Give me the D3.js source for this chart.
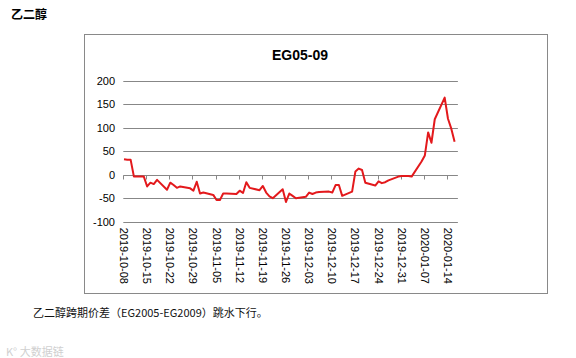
<!DOCTYPE html>
<html><head><meta charset="utf-8">
<script src="https://cdn.jsdelivr.net/npm/d3@7"></script>
<style>
body{margin:0;background:#fff;}
svg{display:block;}
</style></head>
<body>
<svg id="c" width="576" height="358"></svg>
<script>
const dates = ["2019-10-08","2019-10-09","2019-10-10","2019-10-11","2019-10-14","2019-10-15","2019-10-16","2019-10-17","2019-10-18",
"2019-10-21","2019-10-22","2019-10-23","2019-10-24","2019-10-25","2019-10-28","2019-10-29","2019-10-30","2019-10-31",
"2019-11-01","2019-11-04","2019-11-05","2019-11-06","2019-11-07","2019-11-08","2019-11-11","2019-11-12","2019-11-13",
"2019-11-14","2019-11-15","2019-11-18","2019-11-19","2019-11-20","2019-11-21","2019-11-22","2019-11-25","2019-11-26",
"2019-11-27","2019-11-28","2019-11-29","2019-12-02","2019-12-03","2019-12-04","2019-12-05","2019-12-06","2019-12-09",
"2019-12-10","2019-12-11","2019-12-12","2019-12-13","2019-12-16","2019-12-17","2019-12-18","2019-12-19","2019-12-20",
"2019-12-23","2019-12-24","2019-12-25","2019-12-26","2019-12-27","2019-12-30","2019-12-31","2020-01-02","2020-01-03",
"2020-01-06","2020-01-07","2020-01-08","2020-01-09","2020-01-10","2020-01-13","2020-01-14","2020-01-15","2020-01-16"];
const spread = [33,32,32,-4,-4,-25,-17,-20,-11,
-32,-17,-22,-28,-25,-29,-34,-15,-40,
-38,-43,-54,-54,-40,-40,-41,-34,-39,
-16,-28,-33,-24,-38,-46,-50,-31,-58,
-40,-45,-50,-47,-38,-41,-38,-37,-36,
-38,-22,-22,-45,-36,7,13,10,-17,
-23,-14,-18,-16,-12,-4,-3,-3,-4,
28,41,90,68,118,164,119,98,70];
const yTicks = [200,150,100,50,0,-50,-100];
const xTickLabels = ["2019-10-08","2019-10-15","2019-10-22","2019-10-29","2019-11-05","2019-11-12","2019-11-19","2019-11-26",
"2019-12-03","2019-12-10","2019-12-17","2019-12-24","2019-12-31","2020-01-07","2020-01-14"];
const chartTitle = "EG05-09";
const pageTitle = "乙二醇";
const caption = "乙二醇跨期价差（EG2005-EG2009）跳水下行。";

const parse = d3.utcParse("%Y-%m-%d");
const data = dates.map((d,i)=>({date:parse(d), v:spread[i]}));

const svg = d3.select("#c");
const x = d3.scaleUtc().domain([parse("2019-10-08"), parse("2020-01-17")]).range([124, 457.9]);
const y = d3.scaleLinear().domain([-100,200]).range([221.7, 80.7]);

// page title
svg.append("text").attr("x",11).attr("y",19).attr("font-family","Noto Sans CJK SC")
  .attr("font-weight","bold").attr("font-size",12).attr("fill","#000").text(pageTitle);

// frame
svg.append("rect").attr("x",84.5).attr("y",34.5).attr("width",463).attr("height",259)
  .attr("fill","none").attr("stroke","#898989").attr("stroke-width",1);

// chart title
svg.append("text").attr("x",300).attr("y",60).attr("text-anchor","middle")
  .attr("font-family","Liberation Sans, Arial, sans-serif").attr("font-weight","bold")
  .attr("font-size",14).attr("fill","#000").text(chartTitle);

// gridlines
svg.append("g").selectAll("line").data(yTicks).join("line")
  .attr("x1",x.range()[0]-0.7).attr("x2",x.range()[1])
  .attr("y1",d=>Math.round(y(d))+0.5).attr("y2",d=>Math.round(y(d))+0.5)
  .attr("stroke","#878787").attr("stroke-width",1);

// y labels
svg.append("g").selectAll("text").data(yTicks).join("text")
  .attr("x",115).attr("y",d=>y(d)+4).attr("text-anchor","end")
  .attr("font-family","Liberation Sans, Arial, sans-serif").attr("font-size",11).attr("fill","#000")
  .text(d=>d);

// x ticks on zero line
const tickDates = xTickLabels.map(parse);
const y0 = Math.round(y(0))+0.5;
svg.append("g").selectAll("line").data(tickDates).join("line")
  .attr("x1",d=>Math.round(x(d))-0.5).attr("x2",d=>Math.round(x(d))-0.5)
  .attr("y1",y0).attr("y2",y0+4).attr("stroke","#878787");

// x labels rotated
svg.append("g").selectAll("text").data(tickDates).join("text")
  .attr("transform",d=>`translate(${x(d)-4},${y(-100)+6}) rotate(90)`)
  .attr("text-anchor","start")
  .attr("font-family","Liberation Sans, Arial, sans-serif").attr("font-size",11).attr("fill","#000")
  .text(d=>d3.utcFormat("%Y-%m-%d")(d));

// line
const line = d3.line().x(d=>x(d.date)).y(d=>y(d.v));
svg.append("path").datum(data).attr("d",line).attr("fill","none")
  .attr("stroke","#e3191c").attr("stroke-width",2).attr("stroke-linejoin","round");

// caption
svg.append("text").attr("x",33).attr("y",317).attr("font-family","Noto Sans CJK SC")
  .attr("font-size",11).attr("fill","#111").text(caption);

// watermark
svg.append("text").attr("x",6).attr("y",356).attr("font-family","Noto Sans CJK SC")
  .attr("font-size",11).attr("fill","#d0d0d0").text("K° 大数据链");
</script>
</body></html>
